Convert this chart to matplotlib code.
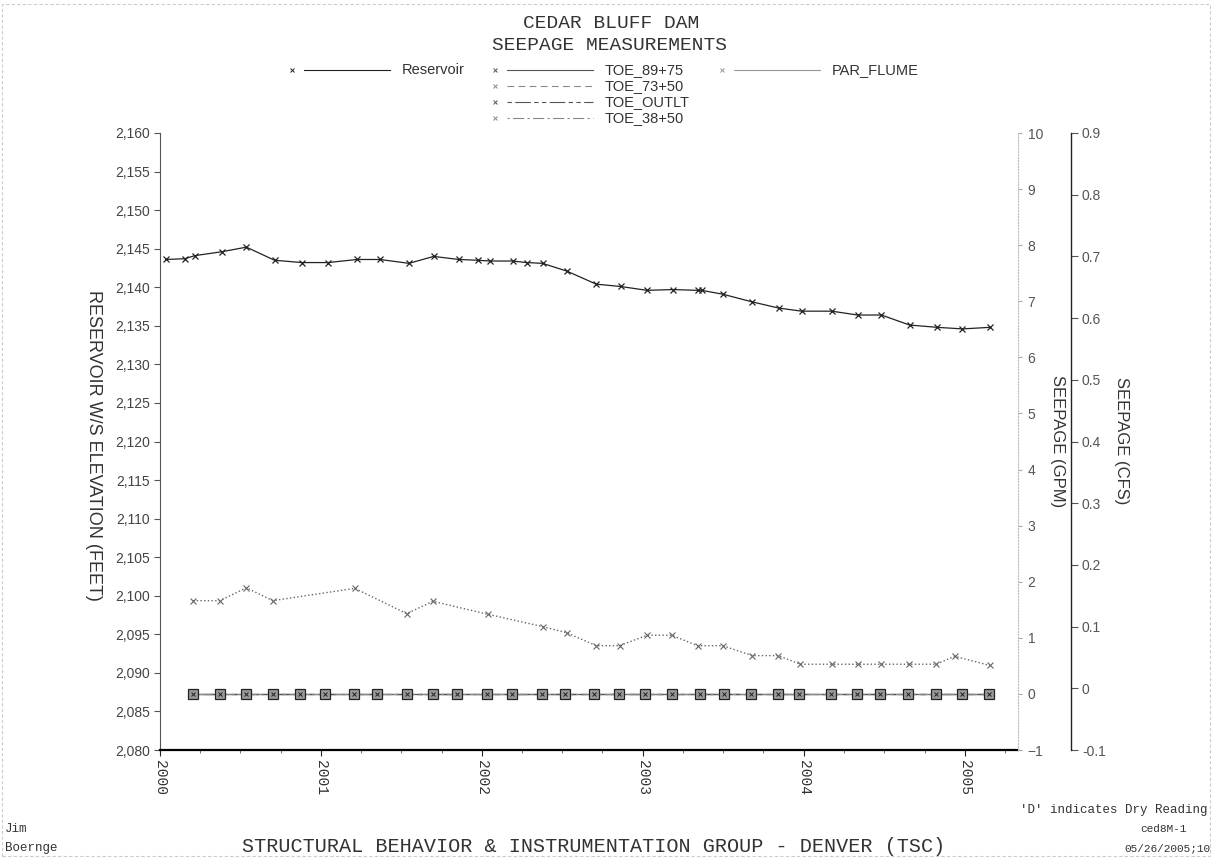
import matplotlib
matplotlib.use("Agg")
import matplotlib.pyplot as plt
import numpy as np
import pandas as pd
from datetime import datetime
from matplotlib.lines import Line2D
from matplotlib.ticker import FuncFormatter

# ── Data ────────────────────────────────────────────────────────────────────
res_dates = [
    "2000-01-14", "2000-02-26", "2000-03-20", "2000-05-20", "2000-07-15", "2000-09-17",
    "2000-11-18", "2001-01-16", "2001-03-23", "2001-05-14", "2001-07-19", "2001-09-13",
    "2001-11-09", "2001-12-22", "2002-01-19", "2002-03-11", "2002-04-12", "2002-05-18",
    "2002-07-12", "2002-09-17", "2002-11-11", "2003-01-10", "2003-03-09", "2003-05-05",
    "2003-05-14", "2003-07-01", "2003-09-06", "2003-11-05", "2003-12-27", "2004-03-04",
    "2004-05-02", "2004-06-25", "2004-08-28", "2004-10-30", "2004-12-26", "2005-02-26",
]
res_elev = [
    2143.6, 2143.7, 2144.1, 2144.6, 2145.2, 2143.5,
    2143.2, 2143.2, 2143.6, 2143.6, 2143.1, 2144.0,
    2143.6, 2143.5, 2143.4, 2143.4, 2143.2, 2143.1,
    2142.1, 2140.4, 2140.1, 2139.6, 2139.7, 2139.6,
    2139.6, 2139.1, 2138.1, 2137.3, 2136.9, 2136.9,
    2136.4, 2136.4, 2135.1, 2134.8, 2134.6, 2134.8,
]

flume_dates = [
    "2000-03-16", "2000-05-16", "2000-07-15", "2000-09-13", "2001-03-18", "2001-07-14",
    "2001-09-11", "2002-01-14", "2002-05-18", "2002-07-12", "2002-09-17", "2002-11-09",
    "2003-01-10", "2003-03-07", "2003-05-05", "2003-07-01", "2003-09-06", "2003-11-03",
    "2003-12-24", "2004-03-04", "2004-05-02", "2004-06-25", "2004-08-26", "2004-10-28",
    "2004-12-08", "2005-02-26",
]
flume_cfs = [
    0.142, 0.142, 0.163, 0.142, 0.162, 0.121,
    0.141, 0.120, 0.100, 0.090, 0.069, 0.069,
    0.086, 0.086, 0.069, 0.069, 0.053, 0.053,
    0.039, 0.039, 0.039, 0.039, 0.039, 0.039,
    0.052, 0.037,
]

toe_dates = [
    "2000-03-16", "2000-05-16", "2000-07-14", "2000-09-13", "2000-11-13", "2001-01-10",
    "2001-03-16", "2001-05-07", "2001-07-14", "2001-09-11", "2001-11-05", "2002-01-12",
    "2002-03-09", "2002-05-16", "2002-07-08", "2002-09-11", "2002-11-07", "2003-01-05",
    "2003-03-07", "2003-05-10", "2003-07-03", "2003-09-04", "2003-11-03", "2003-12-22",
    "2004-03-02", "2004-04-30", "2004-06-21", "2004-08-24", "2004-10-28", "2004-12-26",
    "2005-02-24",
]
# all toe drains read dry (0 GPM) for the whole period
toe_gpm = [
    0.0, 0.0, 0.0, 0.0, 0.0, 0.0, 0.0, 0.0, 0.0, 0.0, 0.0, 0.0, 0.0, 0.0, 0.0, 0.0,
    0.0, 0.0, 0.0, 0.0, 0.0, 0.0, 0.0, 0.0, 0.0, 0.0, 0.0, 0.0, 0.0, 0.0, 0.0,
]
toe_names = ["TOE_89+75", "TOE_73+50", "TOE_OUTLT", "TOE_38+50"]

year_ticks = [2000, 2001, 2002, 2003, 2004, 2005]

# ── Styles ──────────────────────────────────────────────────────────────────
W, H = 1212, 859
_DARK = "#222222"
_MID = "#555555"
_LIGHT = "#888888"
_TXT = "#333333"
_MONO = "Liberation Mono"
_SANS = "Liberation Sans"

toe_styles = {
    "TOE_89+75": dict(ls="-", color=_MID),
    "TOE_73+50": dict(ls=(0, (6, 4)), color=_LIGHT),
    "TOE_OUTLT": dict(ls=(0, (4, 3, 14, 3, 4, 3)), color=_MID),
    "TOE_38+50": dict(ls=(0, (2, 3, 10, 3)), color=_LIGHT),
}


def fx(x):
    return x / W


def fy(y):
    return 1 - y / H


fig = plt.figure(figsize=(W / 100, H / 100), dpi=100, facecolor="white")

# plot area in pixels: x 160..1018, y 133..750
ax = fig.add_axes([fx(160), fy(750), (1018 - 160) / W, (750 - 133) / H])
ax.set_facecolor("none")

rd = pd.to_datetime(res_dates)
fd = pd.to_datetime(flume_dates)
td = pd.to_datetime(toe_dates)

# ── Reservoir (left axis) ───────────────────────────────────────────────────
ax.plot(rd, res_elev, color=_DARK, lw=0.9, marker="x", ms=4, mew=0.9, zorder=4)
ax.set_ylim(2080, 2160)
ax.set_yticks(np.arange(2080, 2161, 5))
ax.yaxis.set_major_formatter(FuncFormatter(lambda v, p: f"{v:,.0f}"))
ax.set_xlim(datetime(2000, 1, 1), datetime(2005, 5, 1))
ax.set_xticks([datetime(y, 1, 1) for y in year_ticks])
ax.set_xticklabels([str(y) for y in year_ticks], rotation=270, family=_MONO,
                   fontsize=10.5, color=_TXT, va="top", ha="center")
ax.set_xticks([datetime(y, m, 1) for y in range(2000, 2006) for m in (4, 7, 10)
               if datetime(y, m, 1) < datetime(2005, 5, 1)], minor=True)
ax.tick_params(axis="x", which="major", length=4, color=_DARK, pad=3)
ax.tick_params(axis="x", which="minor", length=2, color=_MID)
ax.tick_params(axis="y", length=4, color=_MID, labelsize=10, labelcolor="#444444", pad=3)
for lab in ax.get_yticklabels():
    lab.set_family(_SANS)
ax.spines["top"].set_visible(False)
ax.spines["right"].set_visible(False)
ax.spines["left"].set_color(_MID)
ax.spines["left"].set_linewidth(0.8)
ax.spines["bottom"].set_color("black")
ax.spines["bottom"].set_linewidth(1.6)

# ── Toe drains (GPM axis) ───────────────────────────────────────────────────
ax2 = ax.twinx()
for name in toe_names:
    st = toe_styles[name]
    ax2.plot(td, toe_gpm, ls=st["ls"], color=st["color"], lw=0.9, zorder=3)
ax2.plot(td, toe_gpm, ls="none", marker="s", ms=6.5, mfc="#9a9a9a", mec=_DARK,
         mew=0.9, zorder=5)
ax2.plot(td, toe_gpm, ls="none", marker="x", ms=3.5, mew=0.7, color=_DARK, zorder=6)
ax2.set_ylim(-1, 10)
ax2.set_yticks(np.arange(-1, 11, 1))
ax2.tick_params(axis="y", length=3, color="#aaaaaa", labelsize=10,
                labelcolor="#555555", pad=4)
for lab in ax2.get_yticklabels():
    lab.set_family(_SANS)
for s in ("top", "left", "bottom"):
    ax2.spines[s].set_visible(False)
ax2.spines["right"].set_color("#bbbbbb")
ax2.spines["right"].set_linestyle(":")
ax2.spines["right"].set_linewidth(0.8)

# ── Parshall flume (CFS axis) ───────────────────────────────────────────────
ax3 = ax.twinx()
ax3.plot(fd, flume_cfs, ls=":", color="#666666", lw=1.0, marker="x", ms=4,
         mew=0.8, zorder=3)
ax3.set_ylim(-0.1, 0.9)
ax3.set_yticks(np.round(np.arange(-0.1, 0.91, 0.1), 1))
ax3.yaxis.set_major_formatter(
    FuncFormatter(lambda v, p: "0" if abs(v) < 1e-9 else f"{v:.1f}"))
ax3.spines["right"].set_position(("outward", 38))
for s in ("top", "left", "bottom"):
    ax3.spines[s].set_visible(False)
ax3.spines["right"].set_color(_DARK)
ax3.spines["right"].set_linewidth(1.0)
ax3.tick_params(axis="y", length=5, color=_MID, labelsize=10,
                labelcolor="#555555", pad=3)
for lab in ax3.get_yticklabels():
    lab.set_family(_SANS)

# ── Axis labels ─────────────────────────────────────────────────────────────
lab_kw = dict(rotation=270, ha="center", va="center", family=_SANS, color=_TXT)
fig.text(fx(93), fy(445), "RESERVOIR W/S ELEVATION (FEET)", fontsize=13, **lab_kw)
fig.text(fx(1057), fy(441), "SEEPAGE (GPM)", fontsize=12, **lab_kw)
fig.text(fx(1122), fy(441), "SEEPAGE (CFS)", fontsize=12, **lab_kw)

# ── Titles ──────────────────────────────────────────────────────────────────
fig.text(fx(611), fy(23), "CEDAR BLUFF DAM", ha="center", va="center",
         family=_MONO, fontsize=14, color=_TXT)
fig.text(fx(610), fy(45), "SEEPAGE MEASUREMENTS", ha="center", va="center",
         family=_MONO, fontsize=14, color=_TXT)

# ── Legend (hand placed, like the original plotting package) ────────────────
def legend_entry(x0, y, label, color, ls, lw=0.8):
    fig.add_artist(Line2D([fx(x0)], [fy(y)], marker="x", ms=3.5, mew=0.7,
                          color=color, ls="none"))
    fig.add_artist(Line2D([fx(x0 + 12), fx(x0 + 98)], [fy(y), fy(y)],
                          color=color, ls=ls, lw=lw))
    fig.text(fx(x0 + 110), fy(y), label, ha="left", va="center",
             family=_SANS, fontsize=10.5, color=_TXT)


legend_entry(292, 70, "Reservoir", _DARK, "-")
for i, name in enumerate(toe_names):
    st = toe_styles[name]
    legend_entry(495, 70 + i * 16, name, st["color"], st["ls"])
legend_entry(722, 70, "PAR_FLUME", "#999999", "-")

# ── Footer texts ────────────────────────────────────────────────────────────
fig.text(fx(1207), fy(810), "'D' indicates Dry Reading", ha="right", va="center",
         family=_MONO, fontsize=9, color=_TXT)
fig.text(fx(5), fy(829), "Jim", ha="left", va="center", family=_MONO,
         fontsize=9, color=_TXT)
fig.text(fx(5), fy(848), "Boernge", ha="left", va="center", family=_MONO,
         fontsize=9, color=_TXT)
fig.text(fx(594), fy(847), "STRUCTURAL BEHAVIOR & INSTRUMENTATION GROUP - DENVER (TSC)",
         ha="center", va="center", family=_MONO, fontsize=14.5, color=_TXT)
fig.text(fx(1140), fy(829), "ced8M-1", ha="left", va="center", family=_MONO,
         fontsize=8, color=_TXT)
fig.text(fx(1124), fy(848), "05/26/2005;10", ha="left", va="center",
         family=_MONO, fontsize=8, color=_TXT)

# faint border of the scanned sheet
fig.add_artist(plt.Rectangle((fx(2), fy(856)), fx(1208), (856 - 4) / H,
                             fill=False, ec="#cccccc", lw=0.8, ls=(0, (3, 2))))

fig.savefig("out.png", dpi=100, facecolor="white")
plt.close(fig)
